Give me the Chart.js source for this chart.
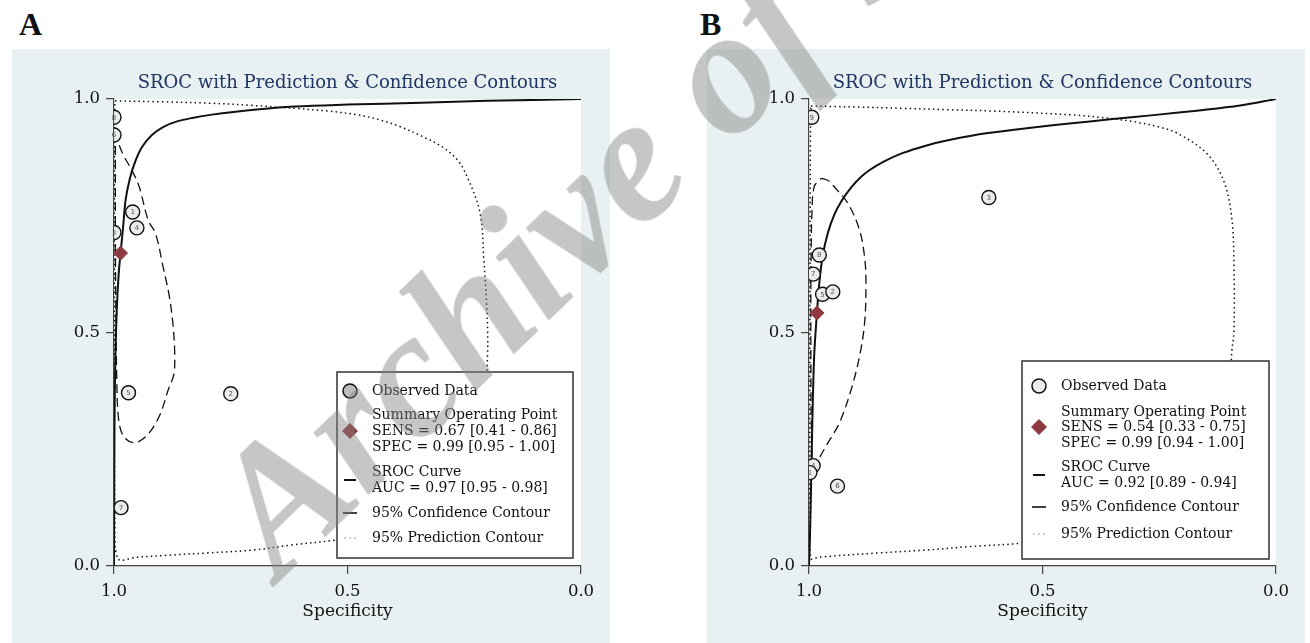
<!DOCTYPE html>
<html>
<head>
<meta charset="utf-8">
<script src="https://cdn.jsdelivr.net/npm/chart.js@4.4.1/dist/chart.umd.min.js"></script>
<style>
  body { margin: 0; width: 1310px; height: 643px; background: #fff; position: relative; overflow: hidden; }
  .panel { position: absolute; top: 49px; width: 598px; height: 594px; background: #e8f0f2; }
  #panelA { left: 12px; }
  #panelB { left: 707px; }
  .tag { position: absolute; top: 6px; font: bold 32px "Liberation Serif", serif; color: #111; }
  #watermark {
    position: absolute; left: 175px; top: 473px;
    transform-origin: 0 0; transform: rotate(-44deg);
    font: italic bold 180px "Liberation Serif", serif; line-height: 1;
    color: rgba(128, 128, 128, 0.45); white-space: nowrap; pointer-events: none;
  }
</style>
</head>
<body>
<div class="tag" style="left:19px">A</div>
<div class="tag" style="left:700px">B</div>
<div class="panel" id="panelA"><canvas id="chartA"></canvas></div>
<div class="panel" id="panelB"><canvas id="chartB"></canvas></div>
<div id="watermark">Archive of SID</div>
<script>
// axis ticks (both axes, both panels)
const tickValues = [0, 0.5, 1];
const chartTitle = "SROC with Prediction & Confidence Contours";

// ---- panel A ----
const studyLabelsA = ["8", "6", "1", "4", "3", "5", "2", "7"];
const studySpecA = [1.0, 1.0, 0.96, 0.951, 1.0, 0.969, 0.75, 0.985];
const studySensA = [0.961, 0.923, 0.758, 0.724, 0.714, 0.371, 0.369, 0.125];
const summarySpecA = [0.986];
const summarySensA = [0.67];
const srocSpecA = [1.0, 0.999, 0.997, 0.994, 0.99, 0.986, 0.981, 0.975, 0.966, 0.955, 0.94, 0.92, 0.895, 0.865, 0.83, 0.794, 0.7, 0.613, 0.5, 0.343, 0.2, 0.0];
const srocSensA = [0.0, 0.3, 0.45, 0.55, 0.625, 0.67, 0.72, 0.785, 0.83, 0.865, 0.897, 0.922, 0.94, 0.952, 0.96, 0.966, 0.977, 0.984, 0.988, 0.992, 0.996, 1.0];
const confSpecA = [0.997, 0.994, 0.98, 0.962, 0.946, 0.927, 0.911, 0.895, 0.882, 0.874, 0.87, 0.872, 0.884, 0.902, 0.929, 0.956, 0.979, 0.99, 0.994, 0.996, 0.997, 0.997, 0.997];
const confSensA = [0.93, 0.916, 0.88, 0.848, 0.812, 0.741, 0.712, 0.641, 0.58, 0.52, 0.456, 0.41, 0.377, 0.323, 0.28, 0.264, 0.277, 0.313, 0.4, 0.55, 0.7, 0.85, 0.93];
const predSpecA = [0.998, 0.9, 0.794, 0.7, 0.613, 0.54, 0.478, 0.43, 0.388, 0.34, 0.298, 0.265, 0.244, 0.216, 0.208, 0.202, 0.2, 0.2, 0.205, 0.22, 0.26, 0.32, 0.42, 0.523, 0.62, 0.703, 0.8, 0.884, 0.95, 0.992, 0.998, 0.999, 0.999, 0.998];
const predSensA = [0.996, 0.994, 0.991, 0.986, 0.98, 0.974, 0.966, 0.955, 0.941, 0.92, 0.898, 0.87, 0.834, 0.755, 0.655, 0.56, 0.505, 0.456, 0.35, 0.25, 0.17, 0.11, 0.075, 0.056, 0.045, 0.034, 0.028, 0.023, 0.019, 0.016, 0.1, 0.5, 0.9, 0.996];
const legendTextA = ["Observed Data", "Summary Operating Point", "SENS = 0.67 [0.41 - 0.86]", "SPEC = 0.99 [0.95 - 1.00]",
  "SROC Curve", "AUC = 0.97 [0.95 - 0.98]", "95% Confidence Contour", "95% Prediction Contour"];

// ---- panel B ----
const studyLabelsB = ["9", "8", "7", "5", "2", "3", "6", "4", "1"];
const studySpecB = [0.994, 0.978, 0.991, 0.971, 0.949, 0.615, 0.939, 0.991, 0.998];
const studySensB = [0.961, 0.666, 0.625, 0.582, 0.587, 0.789, 0.171, 0.215, 0.2];
const summarySpecB = [0.983];
const summarySensB = [0.542];
const srocSpecB = [1.0, 0.998, 0.996, 0.993, 0.989, 0.983, 0.978, 0.971, 0.96, 0.946, 0.93, 0.91, 0.89, 0.87, 0.84, 0.8, 0.75, 0.7, 0.617, 0.52, 0.437, 0.35, 0.257, 0.17, 0.077, 0.0];
const srocSensB = [0.0, 0.06, 0.15, 0.3, 0.448, 0.542, 0.605, 0.662, 0.712, 0.752, 0.782, 0.81, 0.832, 0.848, 0.866, 0.884, 0.9, 0.912, 0.927, 0.939, 0.948, 0.957, 0.966, 0.975, 0.986, 1.0];
const confSpecB = [0.974, 0.96, 0.946, 0.917, 0.892, 0.881, 0.878, 0.881, 0.892, 0.91, 0.935, 0.96, 0.981, 0.991, 0.995, 0.996, 0.996, 0.995, 0.994, 0.989, 0.974];
const confSensB = [0.83, 0.826, 0.812, 0.777, 0.72, 0.662, 0.605, 0.52, 0.448, 0.377, 0.306, 0.263, 0.227, 0.216, 0.3, 0.45, 0.6, 0.7, 0.748, 0.812, 0.83];
const predSpecB = [0.996, 0.95, 0.9, 0.798, 0.7, 0.6, 0.437, 0.37, 0.302, 0.25, 0.212, 0.149, 0.113, 0.095, 0.09, 0.09, 0.095, 0.1, 0.12, 0.16, 0.25, 0.4, 0.545, 0.65, 0.752, 0.85, 0.979, 0.996, 0.998, 0.998, 0.997, 0.996];
const predSensB = [0.985, 0.984, 0.983, 0.98, 0.977, 0.974, 0.966, 0.96, 0.951, 0.94, 0.927, 0.884, 0.827, 0.748, 0.641, 0.505, 0.455, 0.35, 0.25, 0.17, 0.11, 0.07, 0.049, 0.042, 0.034, 0.028, 0.019, 0.016, 0.1, 0.5, 0.9, 0.985];
const legendTextB = ["Observed Data", "Summary Operating Point", "SENS = 0.54 [0.33 - 0.75]", "SPEC = 0.99 [0.94 - 1.00]",
  "SROC Curve", "AUC = 0.92 [0.89 - 0.94]", "95% Confidence Contour", "95% Prediction Contour"];

const SERIF = '"DejaVu Serif", serif';
const SUMMARY_RED = "#8e3a40";

function toPoints(xs, ys) {
  return xs.map((x, i) => ({ x: x, y: ys[i] }));
}

// white plot area, study numbers inside the circles, and the boxed legend
const srocPlugin = {
  id: "sroc",
  beforeDraw(chart) {
    const a = chart.chartArea;
    const ctx = chart.ctx;
    ctx.save();
    ctx.fillStyle = "#fff";
    ctx.fillRect(a.left, a.top, a.right - a.left, a.bottom - a.top);
    ctx.restore();
  },
  afterDatasetsDraw(chart, args, opts) {
    const ctx = chart.ctx;
    const a = chart.chartArea;
    // study numbers
    const meta = chart.getDatasetMeta(0);
    ctx.save();
    ctx.font = '7px "DejaVu Sans", sans-serif';
    ctx.fillStyle = "#555";
    ctx.textAlign = "center";
    ctx.textBaseline = "middle";
    meta.data.forEach((pt, i) => ctx.fillText(opts.studyLabels[i], pt.x, pt.y + 0.5));

    // legend box
    const L = opts.box;
    const bx = a.right - L.marginRight - L.width;
    const by = a.bottom - L.marginBottom - L.height;
    ctx.fillStyle = "#fff";
    ctx.fillRect(bx, by, L.width, L.height);
    ctx.strokeStyle = "#333";
    ctx.lineWidth = 1.5;
    ctx.strokeRect(bx, by, L.width, L.height);

    const mx = bx + L.markerX;
    const rows = L.rows.map(r => by + r);
    ctx.font = "14px " + SERIF;
    ctx.fillStyle = "#111";
    ctx.textAlign = "left";
    opts.text.forEach((t, i) => ctx.fillText(t, bx + L.textX, rows[i]));

    // observed data marker
    ctx.beginPath();
    ctx.arc(mx, rows[0], 7, 0, Math.PI * 2);
    ctx.fillStyle = L.circleFill;
    ctx.fill();
    ctx.strokeStyle = "#111";
    ctx.lineWidth = 1.5;
    ctx.stroke();
    // summary point marker
    ctx.beginPath();
    ctx.moveTo(mx, rows[2] - 8);
    ctx.lineTo(mx + 8, rows[2]);
    ctx.lineTo(mx, rows[2] + 8);
    ctx.lineTo(mx - 8, rows[2]);
    ctx.closePath();
    ctx.fillStyle = SUMMARY_RED;
    ctx.fill();
    // curve / contour markers
    ctx.strokeStyle = "#111";
    ctx.lineWidth = 2;
    const sy = (rows[4] + rows[5]) / 2;
    ctx.beginPath(); ctx.moveTo(mx - 6, sy); ctx.lineTo(mx + 6, sy); ctx.stroke();
    ctx.lineWidth = 1.6;
    ctx.beginPath(); ctx.moveTo(mx - 7, rows[6]); ctx.lineTo(mx + 7, rows[6]); ctx.stroke();
    ctx.fillStyle = "#777";
    [-5, 0, 5].forEach(d => ctx.fillRect(mx + d - 0.6, rows[7] - 0.6, 1.2, 1.2));
    ctx.restore();
  }
};

function fixedSize(w, h) {
  return function (scale) {
    if (w !== null) scale.width = w;
    if (h !== null) scale.height = h;
    scale.paddingLeft = 0;
    scale.paddingRight = 0;
    scale.paddingTop = 0;
    scale.paddingBottom = 0;
  };
}

function axis(isX) {
  return {
    type: "linear",
    min: 0,
    max: 1,
    reverse: isX,
    afterBuildTicks: s => { s.ticks = tickValues.map(v => ({ value: v })); },
    afterFit: isX ? fixedSize(null, 77) : fixedSize(102, null),
    ticks: {
      callback: v => v.toFixed(1),
      font: { family: SERIF, size: 16.5 },
      color: "#111",
      padding: isX ? 8 : 6,
      maxRotation: 0
    },
    grid: { drawOnChartArea: false, drawTicks: true, tickLength: 8, color: "#444", lineWidth: 1.2 },
    border: { display: true, color: "#444", width: 1.2 },
    title: isX
      ? { display: true, text: "Specificity", font: { family: SERIF, size: 17 }, color: "#111", padding: { top: 0, bottom: 21 } }
      : { display: false }
  };
}

function makeChart(id, d) {
  const line = { showLine: true, pointRadius: 0, tension: 0.35, fill: false, borderColor: "#111" };
  return new Chart(document.getElementById(id), {
    type: "scatter",
    data: {
      datasets: [
        { label: "Observed Data", data: toPoints(d.studySpec, d.studySens), pointRadius: 7, pointHoverRadius: 7,
          backgroundColor: "#ececec", borderColor: "#111", borderWidth: 1.4 },
        { label: "Summary Operating Point", data: toPoints(d.summarySpec, d.summarySens), pointStyle: "rectRot",
          pointRadius: 7, backgroundColor: SUMMARY_RED, borderColor: SUMMARY_RED },
        Object.assign({ label: "SROC Curve", data: toPoints(d.srocSpec, d.srocSens), borderWidth: 2 }, line),
        Object.assign({ label: "95% Confidence Contour", data: toPoints(d.confSpec, d.confSens), borderWidth: 1.3,
          borderDash: [9, 5] }, line),
        Object.assign({ label: "95% Prediction Contour", data: toPoints(d.predSpec, d.predSens), borderWidth: 1.5,
          borderDash: [1.5, 3.2] }, line)
      ]
    },
    options: {
      responsive: true,
      maintainAspectRatio: false,
      animation: false,
      layout: { padding: { left: 0, right: 29, top: 0, bottom: 0 }, autoPadding: false },
      scales: { x: axis(true), y: axis(false) },
      plugins: {
        legend: { display: false },
        tooltip: { enabled: false },
        title: {
          display: true,
          text: chartTitle,
          fullSize: false,
          color: "#1f3562",
          font: { family: SERIF, size: 18, weight: "normal" },
          padding: { top: 24, bottom: 4.4 }
        },
        sroc: { studyLabels: d.studyLabels, text: d.legendText, box: d.box }
      }
    },
    plugins: [srocPlugin]
  });
}

makeChart("chartA", {
  studyLabels: studyLabelsA, studySpec: studySpecA, studySens: studySensA,
  summarySpec: summarySpecA, summarySens: summarySensA,
  srocSpec: srocSpecA, srocSens: srocSensA,
  confSpec: confSpecA, confSens: confSensA,
  predSpec: predSpecA, predSens: predSensA,
  legendText: legendTextA,
  box: { width: 236, height: 186, marginRight: 8, marginBottom: 8, markerX: 13, textX: 35,
         rows: [19, 43, 59, 75, 100, 116, 141, 166], circleFill: "#bdbdbd" }
});

makeChart("chartB", {
  studyLabels: studyLabelsB, studySpec: studySpecB, studySens: studySensB,
  summarySpec: summarySpecB, summarySens: summarySensB,
  srocSpec: srocSpecB, srocSens: srocSensB,
  confSpec: confSpecB, confSens: confSensB,
  predSpec: predSpecB, predSens: predSensB,
  legendText: legendTextB,
  box: { width: 247, height: 198, marginRight: 7, marginBottom: 7, markerX: 17, textX: 39,
         rows: [25, 51, 66, 82, 106, 122, 146, 173], circleFill: "#ececec" }
});
</script>
</body>
</html>
